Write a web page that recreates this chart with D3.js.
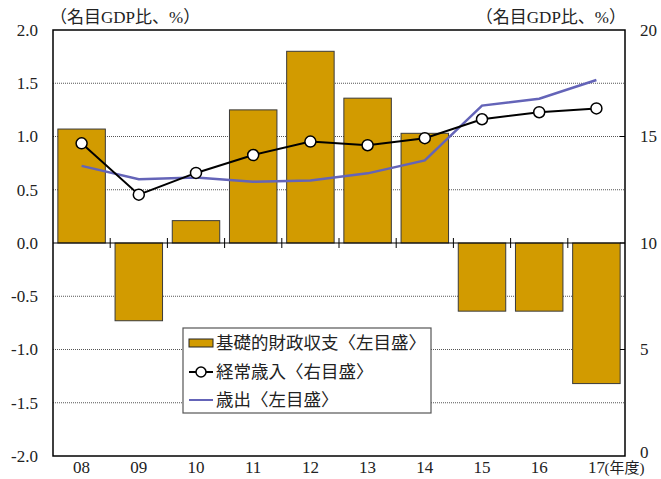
<!DOCTYPE html>
<html>
<head>
<meta charset="utf-8">
<script src="https://cdn.jsdelivr.net/npm/d3@7"></script>
<style>
  body { margin: 0; background: #fff; }
  text { font-family: "Liberation Serif", "Noto Sans CJK JP", serif; fill: #222; }
  .jp { font-family: "Noto Sans CJK JP", sans-serif; }
</style>
</head>
<body>
<div id="chart"></div>
<script>
// data
const years = ["08", "09", "10", "11", "12", "13", "14", "15", "16", "17"];
const primaryBalance = [1.07, -0.73, 0.21, 1.25, 1.80, 1.36, 1.03, -0.64, -0.64, -1.32];
const revenue = [14.68, 12.27, 13.29, 14.13, 14.76, 14.59, 14.92, 15.81, 16.14, 16.32];
const spending = [13.62, 12.99, 13.08, 12.88, 12.94, 13.27, 13.88, 16.45, 16.77, 17.65];
const leftTicks = [2.0, 1.5, 1.0, 0.5, 0.0, -0.5, -1.0, -1.5, -2.0];
const rightTicks = [20, 15, 10, 5, 0];
const legendNames = ["基礎的財政収支〈左目盛〉", "経常歳入〈右目盛〉", "歳出〈左目盛〉"];

const W = 661, H = 479;
const margin = {top: 30, right: 36, bottom: 23, left: 53};
const width = W - margin.left - margin.right,
      height = H - margin.top - margin.bottom;

const svg = d3.select("#chart")
  .append("svg")
    .attr("width", W)
    .attr("height", H);

const g = svg.append("g")
  .attr("transform", `translate(${margin.left},${margin.top})`);

const x = d3.scaleBand()
  .domain(years)
  .range([0, width])
  .paddingInner(0.17)
  .paddingOuter(0.085);

const xStep = width / years.length;

const yL = d3.scaleLinear().domain([-2, 2]).range([height, 0]);
const yR = d3.scaleLinear().domain([0, 20]).range([height, 0]);

// dotted grid
g.selectAll(".grid")
  .data(leftTicks.filter(d => d !== 0 && Math.abs(d) !== 2))
  .enter()
  .append("line")
    .attr("x1", 0).attr("x2", width)
    .attr("y1", d => yL(d)).attr("y2", d => yL(d))
    .attr("stroke", "#555")
    .attr("stroke-width", 1)
    .attr("stroke-dasharray", "1,1");

// bars
g.selectAll(".bar")
  .data(primaryBalance)
  .enter()
  .append("rect")
    .attr("x", (d, i) => x(years[i]))
    .attr("width", x.bandwidth())
    .attr("y", d => yL(Math.max(0, d)))
    .attr("height", d => Math.abs(yL(d) - yL(0)))
    .attr("fill", "#D29B00")
    .attr("stroke", "#3a3a3a")
    .attr("stroke-width", 1);

// zero axis with category ticks
g.append("line")
  .attr("x1", 0).attr("x2", width)
  .attr("y1", yL(0)).attr("y2", yL(0))
  .attr("stroke", "#000").attr("stroke-width", 1.2);

g.selectAll(".ctick")
  .data(d3.range(1, years.length))
  .enter()
  .append("line")
    .attr("x1", d => d * xStep).attr("x2", d => d * xStep)
    .attr("y1", yL(0) - 5).attr("y2", yL(0) + 5)
    .attr("stroke", "#000").attr("stroke-width", 1);

// right inner ticks
g.selectAll(".rtick")
  .data(rightTicks.filter(d => d > 0 && d < 20))
  .enter()
  .append("line")
    .attr("x1", width - 5).attr("x2", width)
    .attr("y1", d => yR(d)).attr("y2", d => yR(d))
    .attr("stroke", "#000");

// frame
g.append("rect")
  .attr("width", width).attr("height", height)
  .attr("fill", "none")
  .attr("stroke", "#000").attr("stroke-width", 1.5);

// spending line
const cx = (d, i) => x(years[i]) + x.bandwidth() / 2;
g.append("path")
  .datum(spending)
  .attr("d", d3.line().x(cx).y(d => yR(d)))
  .attr("fill", "none")
  .attr("stroke", "#6464B8")
  .attr("stroke-width", 2.5);

// revenue line + points
g.append("path")
  .datum(revenue)
  .attr("d", d3.line().x(cx).y(d => yR(d)))
  .attr("fill", "none")
  .attr("stroke", "#000")
  .attr("stroke-width", 2);

g.selectAll(".pt")
  .data(revenue)
  .enter()
  .append("circle")
    .attr("cx", cx)
    .attr("cy", d => yR(d))
    .attr("r", 5.5)
    .attr("fill", "#fff")
    .attr("stroke", "#000")
    .attr("stroke-width", 1.5);

// axis labels
svg.selectAll(".ly")
  .data(leftTicks)
  .enter()
  .append("text")
    .attr("x", 38)
    .attr("y", d => margin.top + yL(d))
    .attr("dy", "0.35em")
    .attr("text-anchor", "end")
    .style("font-size", "17px")
    .text(d => d.toFixed(1));

svg.selectAll(".ry")
  .data(rightTicks)
  .enter()
  .append("text")
    .attr("x", 640)
    .attr("y", d => margin.top + yR(d) - (d === 0 ? 4 : 0))
    .attr("dy", "0.35em")
    .style("font-size", "17px")
    .text(d => d);

svg.selectAll(".lx")
  .data(years)
  .enter()
  .append("text")
    .attr("x", d => margin.left + x(d) + x.bandwidth() / 2)
    .attr("y", 468)
    .attr("dy", "0.32em")
    .attr("text-anchor", "middle")
    .style("font-size", "17px")
    .text(d => d);

svg.append("text")
  .attr("x", margin.left + x("17") + x.bandwidth() / 2 + 8)
  .attr("y", 468)
  .attr("dy", "0.32em")
  .style("font-size", "15px")
  .text("(年度)");

svg.append("text")
  .attr("x", 50).attr("y", 17)
  .attr("dy", "0.35em")
  .style("font-size", "17px")
  .text("（名目GDP比、%）");

svg.append("text")
  .attr("x", 626).attr("y", 17)
  .attr("dy", "0.35em")
  .attr("text-anchor", "end")
  .style("font-size", "17px")
  .text("（名目GDP比、%）");

// legend
const lg = svg.append("g").attr("transform", "translate(183,328)");
lg.append("rect")
  .attr("width", 248).attr("height", 85)
  .attr("fill", "#fff")
  .attr("stroke", "#555").attr("stroke-width", 1.2);

const rowY = [15, 44, 72];
lg.append("rect")
  .attr("x", 6).attr("y", rowY[0] - 4)
  .attr("width", 24).attr("height", 8)
  .attr("fill", "#D29B00").attr("stroke", "#222");
lg.append("line")
  .attr("x1", 6).attr("x2", 30)
  .attr("y1", rowY[1]).attr("y2", rowY[1])
  .attr("stroke", "#000").attr("stroke-width", 2);
lg.append("circle")
  .attr("cx", 18).attr("cy", rowY[1]).attr("r", 5)
  .attr("fill", "#fff").attr("stroke", "#000").attr("stroke-width", 1.5);
lg.append("line")
  .attr("x1", 6).attr("x2", 30)
  .attr("y1", rowY[2]).attr("y2", rowY[2])
  .attr("stroke", "#6464B8").attr("stroke-width", 2);

lg.selectAll(".lt")
  .data(legendNames)
  .enter()
  .append("text")
    .attr("class", "jp")
    .attr("x", 33)
    .attr("y", (d, i) => rowY[i])
    .attr("dy", "0.35em")
    .style("font-size", "17.5px")
    .text(d => d);
</script>
</body>
</html>
